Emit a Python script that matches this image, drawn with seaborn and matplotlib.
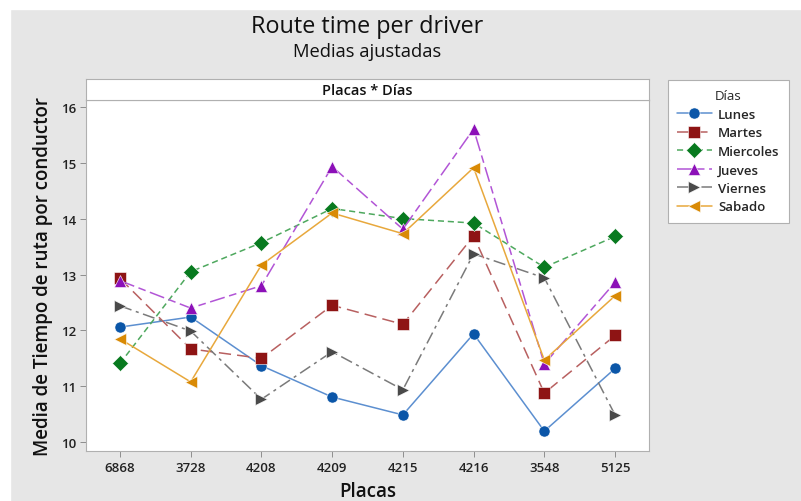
import numpy as np
import pandas as pd
import matplotlib
matplotlib.use("Agg")
import matplotlib.pyplot as plt
import seaborn as sns
from matplotlib.lines import Line2D

# Datos (medias ajustadas)
placas = ["6868", "3728", "4208", "4209", "4215", "4216", "3548", "5125"]
dias = ["Lunes", "Martes", "Miercoles", "Jueves", "Viernes", "Sabado"]

lunes = [12.06, 12.24, 11.37, 10.81, 10.49, 11.94, 10.20, 11.32]
martes = [12.93, 11.67, 11.50, 12.45, 12.11, 13.69, 10.88, 11.91]
miercoles = [11.41, 13.05, 13.57, 14.18, 14.00, 13.92, 13.13, 13.68]
jueves = [12.89, 12.40, 12.80, 14.93, 13.81, 15.60, 11.40, 12.86]
viernes = [12.44, 11.99, 10.77, 11.62, 10.94, 13.37, 12.94, 10.49]
sabado = [11.85, 11.08, 13.17, 14.10, 13.73, 14.91, 11.47, 12.62]

valores = [lunes, martes, miercoles, jueves, viernes, sabado]

df = pd.DataFrame({
    "Placas": placas * len(dias),
    "Media": np.concatenate(valores),
    "Días": np.repeat(dias, len(placas)),
})

colores = {"Lunes": "#0b56a8", "Martes": "#8e1414", "Miercoles": "#087a1f",
           "Jueves": "#8c10b8", "Viernes": "#4a4a4a", "Sabado": "#d98a05"}
colores_linea = {"Lunes": "#5c8fd0", "Martes": "#b86060", "Miercoles": "#4ea85e",
                 "Jueves": "#b255d6", "Viernes": "#7a7a7a", "Sabado": "#e8a83c"}
marcadores = {"Lunes": "o", "Martes": "s", "Miercoles": "D",
              "Jueves": "^", "Viernes": ">", "Sabado": "<"}
guiones = {"Lunes": "", "Martes": (8, 4), "Miercoles": (4, 2.5),
           "Jueves": (10, 3, 5, 3), "Viernes": (8, 3, 2, 3), "Sabado": ""}

sns.set_style("white")
plt.rcParams['font.family'] = ['Open Sans', 'DejaVu Sans']

fig = plt.figure(figsize=(8.01, 5.02), dpi=100)
fig.patch.set_facecolor("#e6e6e6")
# franja blanca superior e izquierda
fig.add_artist(plt.Rectangle((0, 1 - 10 / 502), 1, 10 / 502, transform=fig.transFigure,
                             color="white", zorder=-5))
fig.add_artist(plt.Rectangle((0, 0), 10 / 801, 1, transform=fig.transFigure,
                             color="white", zorder=-5))

ax = fig.add_axes([86 / 801, 50 / 502, 563 / 801, 351 / 502])
sns.lineplot(data=df, x="Placas", y="Media", hue="Días", style="Días",
             palette=colores, markers=marcadores, dashes=guiones, sort=False,
             linewidth=1.1, markersize=8, markeredgewidth=0.4,
             ax=ax, legend=False)

for linea, d in zip(ax.get_lines(), dias):
    linea.set_color(colores_linea[d])
    linea.set_markerfacecolor(colores[d])
    linea.set_markeredgecolor("white")

ax.set_xlim(-0.48, 7.48)
ax.set_ylim(9.845, 16.12)
ax.set_yticks([10, 11, 12, 13, 14, 15, 16])
ax.set_xticks(range(len(placas)))
ax.set_xticklabels(placas)
ax.tick_params(axis="both", direction="out", length=4, width=0.6, color="#808080",
               labelsize=9.5, pad=3, left=True, bottom=True, labelcolor="#222222")
for lab in ax.get_xticklabels() + ax.get_yticklabels():
    lab.set_fontweight("semibold")
for s in ax.spines.values():
    s.set_color("#b0b0b0")
    s.set_linewidth(0.8)
ax.set_xlabel("Placas", fontsize=13.5, fontweight="semibold", labelpad=5, color="#111111")
ax.set_ylabel("Media de Tiempo de ruta por conductor", fontsize=13.5, fontweight="semibold",
              labelpad=6, color="#111111")

# franja de encabezado
strip = fig.add_axes([86 / 801, 401 / 502, 563 / 801, 21 / 502])
strip.set_xticks([])
strip.set_yticks([])
for s in strip.spines.values():
    s.set_color("#b0b0b0")
    s.set_linewidth(0.8)
strip.text(0.5, 0.5, "Placas * Días", ha="center", va="center", fontsize=10.5,
           fontweight="semibold", color="#111111", transform=strip.transAxes)

fig.text(367 / 801, 1 - 27 / 502, "Route time per driver", ha="center", va="center",
         fontsize=16.8, color="#111111")
fig.text(367 / 801, 1 - 52 / 502, "Medias ajustadas", ha="center", va="center",
         fontsize=13.2, color="#111111")

# leyenda
handles = []
for d in dias:
    handles.append(Line2D([], [], color=colores_linea[d], linewidth=1.1,
                          dashes=guiones[d] if guiones[d] else (None, None),
                          linestyle="-" if guiones[d] == "" else "--",
                          marker=marcadores[d], markersize=8,
                          markerfacecolor=colores[d], markeredgecolor="white",
                          markeredgewidth=0.4))
leg = fig.legend(handles=handles, labels=dias, title="Días", loc="upper left",
                 bbox_to_anchor=(668 / 801, 1 - 81 / 502), frameon=True,
                 prop={"size": 9.5, "weight": "semibold"}, title_fontsize=9.5,
                 handlelength=2.6, borderpad=0.7, labelspacing=0.42, fancybox=False,
                 handletextpad=0.5, borderaxespad=0, framealpha=1, facecolor="white")
leg.get_frame().set_edgecolor("#b0b0b0")
leg.get_frame().set_linewidth(0.8)

fig.savefig("out.png", dpi=100, facecolor=fig.get_facecolor())
